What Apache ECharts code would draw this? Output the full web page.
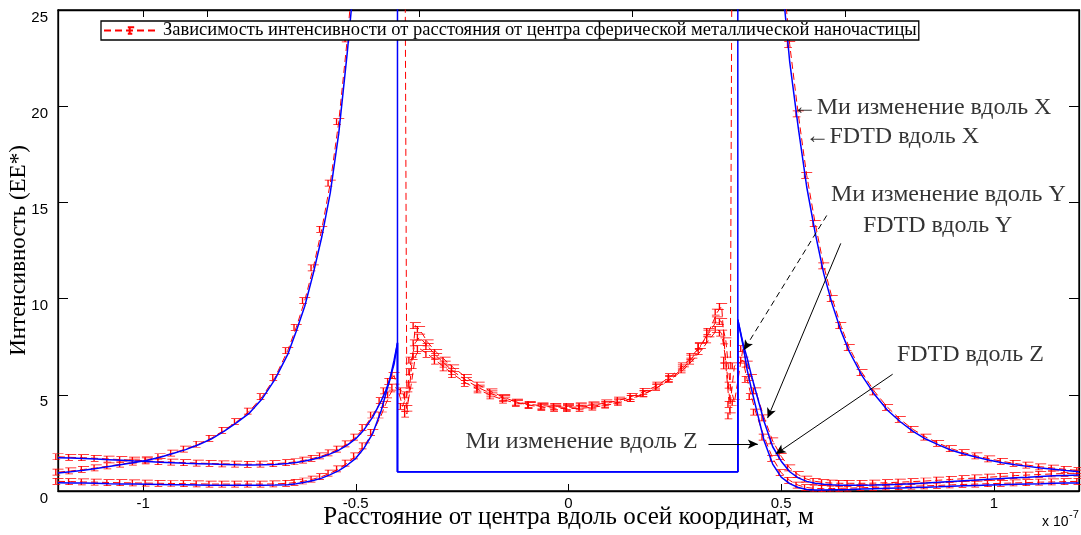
<!DOCTYPE html>
<html lang="ru">
<head>
    <meta charset="UTF-8">
    <script src="https://cdn.jsdelivr.net/npm/echarts@6/dist/echarts.min.js"></script>
    <style>
        html, body { margin: 0; padding: 0; background: #fff; }
        #chart { width: 1081px; height: 535px; }
    </style>
</head>
<body>
<div id="chart"></div>
<script>
    // абсцисса в единицах 1e-7 м
    var xLeft = [-1.2,-1.17,-1.14,-1.11,-1.08,-1.05,-1.02,-0.99,-0.96,-0.93,-0.9,-0.87,-0.84,-0.81,-0.78,-0.75,
        -0.72,-0.69,-0.66,-0.64,-0.62,-0.6,-0.58,-0.56,-0.54,-0.52,-0.5,-0.48,-0.46,-0.44,-0.43,-0.42,-0.41];
    var xInner = [-0.39,-0.38,-0.37,-0.36,-0.35,-0.33,-0.31,-0.29,-0.27,-0.24,-0.21,-0.18,-0.15,-0.12,-0.09,-0.06,-0.03,
        0,0.03,0.06,0.09,0.12,0.15,0.18,0.21,0.24,0.27,0.29,0.31,0.33,0.35,0.36,0.37,0.38,0.39];
    var xRight = [0.41,0.42,0.43,0.44,0.46,0.48,0.5,0.52,0.54,0.56,0.58,0.6,0.62,0.64,0.66,0.69,0.72,0.75,0.78,
        0.81,0.84,0.87,0.9,0.93,0.96,0.99,1.02,1.05,1.08,1.11,1.14,1.17,1.2];

    // Ми: граница сферы и значение внутри
    var mieEdge = [-0.402, 0.398];
    var mieInside = 1.0;

    var mieXLeft = [0.93,1.0,1.08,1.17,1.27,1.38,1.48,1.6,1.75,1.95,2.15,2.4,2.7,3.1,3.55,4.05,
        4.8,5.8,7.1,8.3,9.6,11.3,13.2,15.5,18.6,22.8,27.5,33,39,46,50,54,58];
    var mieXRight = [58,54,50,47,40,33,27,22.3,18.9,15.8,13.4,11.3,9.7,8.35,7.25,6.0,5.0,4.2,3.6,
        3.1,2.7,2.4,2.12,1.92,1.75,1.6,1.47,1.37,1.28,1.2,1.13,1.06,1.0];
    var mieXEdge = [62, 62];

    var mieYLeft = [1.73,1.71,1.69,1.66,1.63,1.6,1.56,1.53,1.5,1.47,1.44,1.42,1.4,1.38,1.36,1.35,
        1.36,1.38,1.43,1.48,1.56,1.65,1.77,1.93,2.12,2.38,2.72,3.2,3.85,4.7,5.2,5.8,6.6];
    var mieYRight = [7.7,6.9,6.0,5.2,3.6,2.3,1.55,1.0,0.68,0.5,0.4,0.35,0.32,0.3,0.3,0.3,0.31,0.33,0.35,
        0.38,0.41,0.45,0.49,0.53,0.57,0.61,0.65,0.69,0.72,0.76,0.79,0.81,0.83];
    var mieYEdge = [7.7, 8.9];

    var mieZLeft = [0.43,0.42,0.41,0.4,0.38,0.37,0.36,0.35,0.34,0.33,0.32,0.31,0.3,0.3,0.3,0.3,
        0.3,0.31,0.33,0.38,0.45,0.55,0.67,0.85,1.06,1.35,1.7,2.25,3.0,4.2,5.0,5.8,6.8];
    var mieZRight = [7.6,6.3,5.3,4.4,2.6,1.4,0.72,0.38,0.18,0.08,0.05,0.05,0.06,0.07,0.08,0.1,0.12,0.14,0.16,
        0.18,0.2,0.22,0.25,0.27,0.29,0.31,0.33,0.35,0.37,0.38,0.4,0.41,0.42];
    var mieZEdge = [7.7, 8.9];

    // FDTD
    var fdXLeft = [0.98,1.04,1.12,1.2,1.3,1.4,1.5,1.62,1.78,1.97,2.18,2.43,2.74,3.15,3.6,4.15,
        4.9,5.9,7.3,8.5,9.9,11.6,13.6,16.0,19.2,23.5,28.5,34,40,47,51,55,59];
    var fdXInner = [62,4.0,6.2,8.6,8.4,7.7,7.2,6.8,6.4,5.9,5.5,5.15,4.85,4.6,4.45,4.35,4.3,
        4.28,4.3,4.36,4.46,4.6,4.8,5.05,5.4,5.85,6.4,6.9,7.5,8.3,9.3,9.6,6.5,3.9,62];
    var fdXRight = [59,55,51,48,41,34,28,23.2,19.6,16.4,13.9,11.7,10.0,8.6,7.45,6.15,5.15,4.35,3.72,
        3.2,2.8,2.48,2.2,1.99,1.82,1.67,1.54,1.43,1.34,1.26,1.19,1.12,1.06];

    var fdYLeft = [1.78,1.75,1.73,1.7,1.66,1.63,1.6,1.56,1.53,1.5,1.47,1.45,1.43,1.41,1.4,1.39,
        1.4,1.42,1.47,1.52,1.6,1.7,1.82,1.98,2.18,2.45,2.8,3.3,3.95,4.7,5.2,5.7,6.0];
    var fdYInner = [4.4,5.0,6.8,7.7,8.0,7.5,7.0,6.6,6.2,5.75,5.35,5.05,4.8,4.62,4.5,4.43,4.4,
        4.4,4.42,4.48,4.58,4.72,4.92,5.18,5.5,5.95,6.5,7.0,7.55,8.2,8.9,8.8,7.8,5.5,4.6];
    var fdYRight = [7.4,6.6,5.9,5.2,3.8,2.6,1.8,1.2,0.85,0.62,0.5,0.44,0.41,0.4,0.4,0.4,0.41,0.43,0.46,
        0.49,0.52,0.56,0.6,0.64,0.68,0.72,0.76,0.8,0.83,0.86,0.89,0.91,0.93];

    var fdZLeft = [0.5,0.49,0.47,0.46,0.44,0.43,0.42,0.41,0.4,0.39,0.38,0.37,0.36,0.36,0.36,0.36,
        0.36,0.37,0.4,0.45,0.52,0.62,0.75,0.93,1.15,1.45,1.82,2.35,3.05,3.95,4.5,5.0,5.4];
    var fdZInner = [5.2,4.3,5.5,7.0,7.4,7.1,6.75,6.4,6.05,5.6,5.25,4.95,4.72,4.56,4.46,4.4,4.36,
        4.35,4.37,4.42,4.5,4.63,4.82,5.08,5.4,5.8,6.3,6.75,7.25,7.85,8.4,8.2,6.8,4.5,6.5];
    var fdZRight = [6.8,5.8,4.9,4.1,2.8,1.7,0.95,0.55,0.3,0.18,0.13,0.12,0.13,0.14,0.15,0.17,0.19,0.21,0.23,
        0.25,0.27,0.29,0.32,0.34,0.36,0.38,0.4,0.42,0.44,0.46,0.47,0.49,0.5];

    // подписи и стрелки
    var annText = ['←Ми изменение вдоль X', '←FDTD вдоль X', 'Ми изменение вдоль Y',
        'FDTD вдоль Y', 'FDTD вдоль Z', 'Ми изменение вдоль Z'];
    var annX = [0.527, 0.557, 0.617, 0.692, 0.772, -0.242];
    var annY = [19.9, 18.4, 15.4, 13.8, 7.06, 2.54];
    var arrowFrom = [[0.607, 14.32], [0.64, 12.87], [0.762, 6.07], [0.329, 2.44]];
    var arrowTo = [[0.412, 7.32], [0.468, 3.79], [0.487, 1.92], [0.445, 2.44]];
    var arrowDashed = [true, false, false, false];

    var legendName = 'Зависимость интенсивности от расстояния от центра сферической металлической наночастицы';
    var marker = 'path://M0,0H10M3,0V5M0,5H7';

    function mie(left, edge, right) {
        var pts = xLeft.map(function (x, i) { return [x, left[i]]; });
        pts.push([mieEdge[0], edge[0]], [mieEdge[0], mieInside], [mieEdge[1], mieInside], [mieEdge[1], edge[1]]);
        return pts.concat(xRight.map(function (x, i) { return [x, right[i]]; }));
    }
    function fdtd(left, inner, right) {
        return xLeft.map(function (x, i) { return [x, left[i]]; })
            .concat(xInner.map(function (x, i) { return [x, inner[i]]; }))
            .concat(xRight.map(function (x, i) { return [x, right[i]]; }));
    }
    function redSeries(name, data) {
        return {
            name: name, type: 'line', data: data, clip: true,
            symbol: marker, symbolSize: [11, 6],
            itemStyle: { color: '#ff0000', borderColor: '#ff0000', borderWidth: 1 },
            lineStyle: { color: '#ff0000', width: 1, type: [7, 4] },
            z: 2
        };
    }
    function blueSeries(name, data) {
        return {
            name: name, type: 'line', data: data, clip: true, showSymbol: false,
            lineStyle: { color: '#0000ff', width: 1.5 }, z: 3
        };
    }

    var serif = 'Liberation Serif';
    var sans = 'Liberation Sans';

    var chart = echarts.init(document.getElementById('chart'));
    var option = {
        animation: false,
        backgroundColor: '#fff',
        grid: {
            left: 58, right: 2, top: 10, bottom: 44, containLabel: false, outerBoundsMode: 'none',
            show: true, borderColor: '#000', borderWidth: 1.3
        },
        legend: {
            data: [legendName],
            left: 101, top: 21,
            padding: [0, 2, 0, 2],
            borderColor: '#000', borderWidth: 1.3,
            backgroundColor: '#fff',
            itemWidth: 54, itemHeight: 8,
            textStyle: { fontFamily: serif, fontSize: 18.5, lineHeight: 17, color: '#000' }
        },
        xAxis: [{
            type: 'value', min: -1.2, max: 1.2, position: 'bottom',
            name: 'Расстояние от центра вдоль осей координат, м',
            nameLocation: 'middle', nameGap: 14, nameMoveOverlap: false,
            nameTextStyle: { fontFamily: serif, fontSize: 25, color: '#000' },
            axisLine: { onZero: false, lineStyle: { color: '#000', width: 1.3 } },
            axisTick: { inside: true, length: 7, customValues: [-1, -0.5, 0, 0.5, 1], lineStyle: { color: '#000' } },
            axisLabel: { customValues: [-1, -0.5, 0, 0.5, 1], margin: 5, fontFamily: sans, fontSize: 15, color: '#000' },
            splitLine: { show: false }
        }, {
            type: 'value', min: -1.2, max: 1.2, position: 'top',
            axisLine: { onZero: false, lineStyle: { color: '#000', width: 1.3 } },
            axisTick: { inside: true, length: 7, customValues: [-1, -0.85, -0.35, 0.15, 0.65], lineStyle: { color: '#000' } },
            axisLabel: { show: false },
            splitLine: { show: false }
        }],
        yAxis: [{
            type: 'value', min: 0, max: 25, interval: 5, position: 'left',
            name: 'Интенсивность (ЕЕ*)',
            nameLocation: 'middle', nameGap: 28, nameMoveOverlap: false,
            nameTextStyle: { fontFamily: serif, fontSize: 23, color: '#000' },
            axisLine: { show: true, onZero: false, lineStyle: { color: '#000', width: 1.3 } },
            axisTick: { show: true, inside: true, length: 10, lineStyle: { color: '#000' } },
            axisLabel: { margin: 10, verticalAlign: 'top', fontFamily: sans, fontSize: 15, color: '#000' },
            splitLine: { show: false }
        }, {
            type: 'value', min: 0, max: 25, interval: 5, position: 'right',
            axisLine: { show: true, onZero: false, lineStyle: { color: '#000', width: 1.3 } },
            axisTick: { show: true, inside: true, length: 10, lineStyle: { color: '#000' } },
            axisLabel: { show: false },
            splitLine: { show: false }
        }],
        graphic: [
            { type: 'text', left: 1042, top: 515, style: { text: 'x 10', font: '14px "Liberation Sans"', fill: '#000' } },
            { type: 'text', left: 1069, top: 509, style: { text: '-7', font: '11px "Liberation Sans"', fill: '#000' } }
        ],
        series: [
            redSeries(legendName, fdtd(fdXLeft, fdXInner, fdXRight)),
            redSeries('FDTD Y', fdtd(fdYLeft, fdYInner, fdYRight)),
            redSeries('FDTD Z', fdtd(fdZLeft, fdZInner, fdZRight)),
            blueSeries('Mie X', mie(mieXLeft, mieXEdge, mieXRight)),
            blueSeries('Mie Y', mie(mieYLeft, mieYEdge, mieYRight)),
            blueSeries('Mie Z', mie(mieZLeft, mieZEdge, mieZRight)),
            {
                name: 'notes', type: 'scatter', symbolSize: 0, z: 5, silent: true,
                data: annX.map(function (x, i) { return { value: [x, annY[i]], name: annText[i] }; }),
                label: {
                    show: true, position: 'right', distance: 0, formatter: '{b}',
                    fontFamily: serif, fontSize: 24, color: '#000'
                },
                markLine: {
                    silent: true, animation: false,
                    symbol: ['none', 'arrow'], symbolSize: [7, 10],
                    label: { show: false },
                    lineStyle: { color: '#000', width: 1, type: 'solid' },
                    data: arrowFrom.map(function (p, i) {
                        return [
                            { coord: p, lineStyle: { type: arrowDashed[i] ? [6, 4] : 'solid' } },
                            { coord: arrowTo[i] }
                        ];
                    })
                }
            }
        ]
    };
    chart.setOption(option);
</script>
</body>
</html>
